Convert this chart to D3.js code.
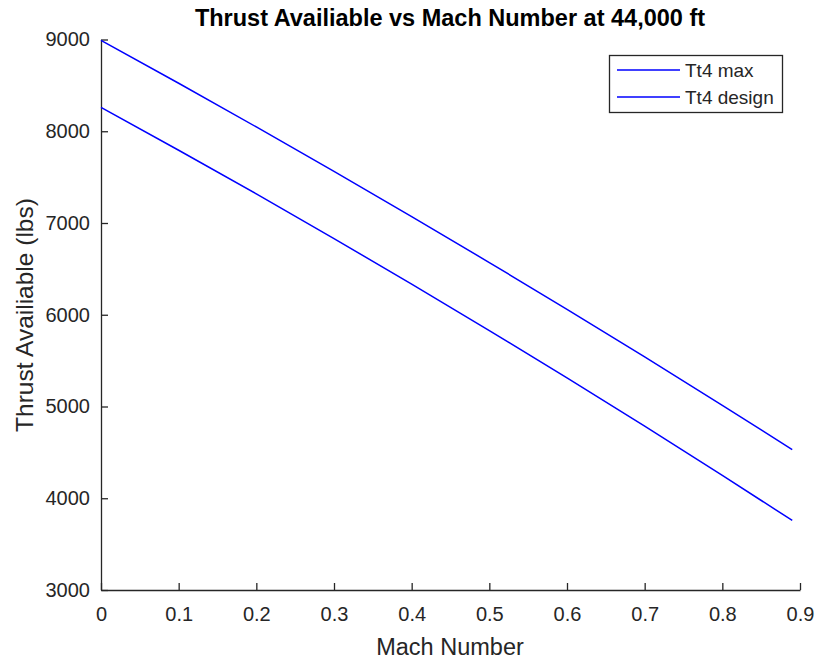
<!DOCTYPE html>
<html>
<head>
<meta charset="utf-8">
<script src="https://cdn.jsdelivr.net/npm/d3@7"></script>
<style>
  body { margin: 0; background: #fff; }
  svg text { font-family: "Liberation Sans", Arial, sans-serif; fill: #262626; }
</style>
</head>
<body>
<svg width="818" height="662"></svg>
<script>
// data
var mach = [0, 0.1, 0.2, 0.3, 0.4, 0.5, 0.6, 0.7, 0.8, 0.89];
var thrustMax = [8990, 8523, 8047, 7563, 7070, 6569, 6059, 5540, 5013, 4531];
var thrustDesign = [8260, 7793, 7317, 6830, 6334, 5828, 5311, 4785, 4249, 3758];
var seriesNames = ['Tt4 max', 'Tt4 design'];
var xTicks = [0, 0.1, 0.2, 0.3, 0.4, 0.5, 0.6, 0.7, 0.8, 0.9];
var yTicks = [3000, 4000, 5000, 6000, 7000, 8000, 9000];

var svg = d3.select('svg');
var padL = 101, padR = 800, padT = 39.5, padB = 590;

var x = d3.scaleLinear().domain([0, 0.9]).range([padL, padR]);
var y = d3.scaleLinear().domain([3000, 9000]).range([padB, padT]);

// axes, ticks pointing inward like matlab
var xAxis = d3.axisBottom(x).tickValues(xTicks).tickSizeInner(-7).tickSizeOuter(0).tickPadding(17)
  .tickFormat(function(d){ return d === 0 ? '0' : d3.format('.1f')(d); });
var yAxis = d3.axisLeft(y).tickValues(yTicks).tickSizeInner(-7).tickSizeOuter(0).tickPadding(11)
  .tickFormat(d3.format('d'));

var gx = svg.append('g').attr('transform', 'translate(0,' + padB + ')').call(xAxis);
var gy = svg.append('g').attr('transform', 'translate(' + padL + ',0)').call(yAxis);
[gx, gy].forEach(function(g){
  g.selectAll('path,line').attr('stroke', '#262626').attr('stroke-width', 1.3);
  g.selectAll('text').attr('font-size', 20).attr('fill', '#3a3a3a')
    .style('font-family', '"Liberation Sans", Arial, sans-serif');
});

var line = d3.line().x(function(d, i){ return x(mach[i]); }).y(function(d){ return y(d); });

svg.append('path').datum(thrustMax).attr('d', line)
  .attr('fill', 'none').attr('stroke', '#0000ff').attr('stroke-width', 1.5);
svg.append('path').datum(thrustDesign).attr('d', line)
  .attr('fill', 'none').attr('stroke', '#0000ff').attr('stroke-width', 1.5);

// title and labels
svg.append('text').attr('x', 450).attr('y', 26).attr('text-anchor', 'middle')
  .attr('font-size', 23.5).attr('font-weight', 'bold').style('fill', '#000')
  .text('Thrust Availiable vs Mach Number at 44,000 ft');
svg.append('text').attr('x', 450).attr('y', 655).attr('text-anchor', 'middle')
  .attr('font-size', 23.5).text('Mach Number');
svg.append('text').attr('transform', 'translate(33,315) rotate(-90)').attr('text-anchor', 'middle')
  .attr('font-size', 24.5).text('Thrust Availiable (lbs)');

// legend
var lg = svg.append('g');
lg.append('rect').attr('x', 609.5).attr('y', 55.5).attr('width', 173).attr('height', 57)
  .attr('fill', '#fff').attr('stroke', '#262626').attr('stroke-width', 1.3);
seriesNames.forEach(function(n, i){
  var yy = 70 + i * 27;
  lg.append('line').attr('x1', 617).attr('x2', 680).attr('y1', yy).attr('y2', yy)
    .attr('stroke', '#0000ff').attr('stroke-width', 1.5);
  lg.append('text').attr('x', 685).attr('y', yy + 7).attr('font-size', 19).text(n);
});
</script>
</body>
</html>
